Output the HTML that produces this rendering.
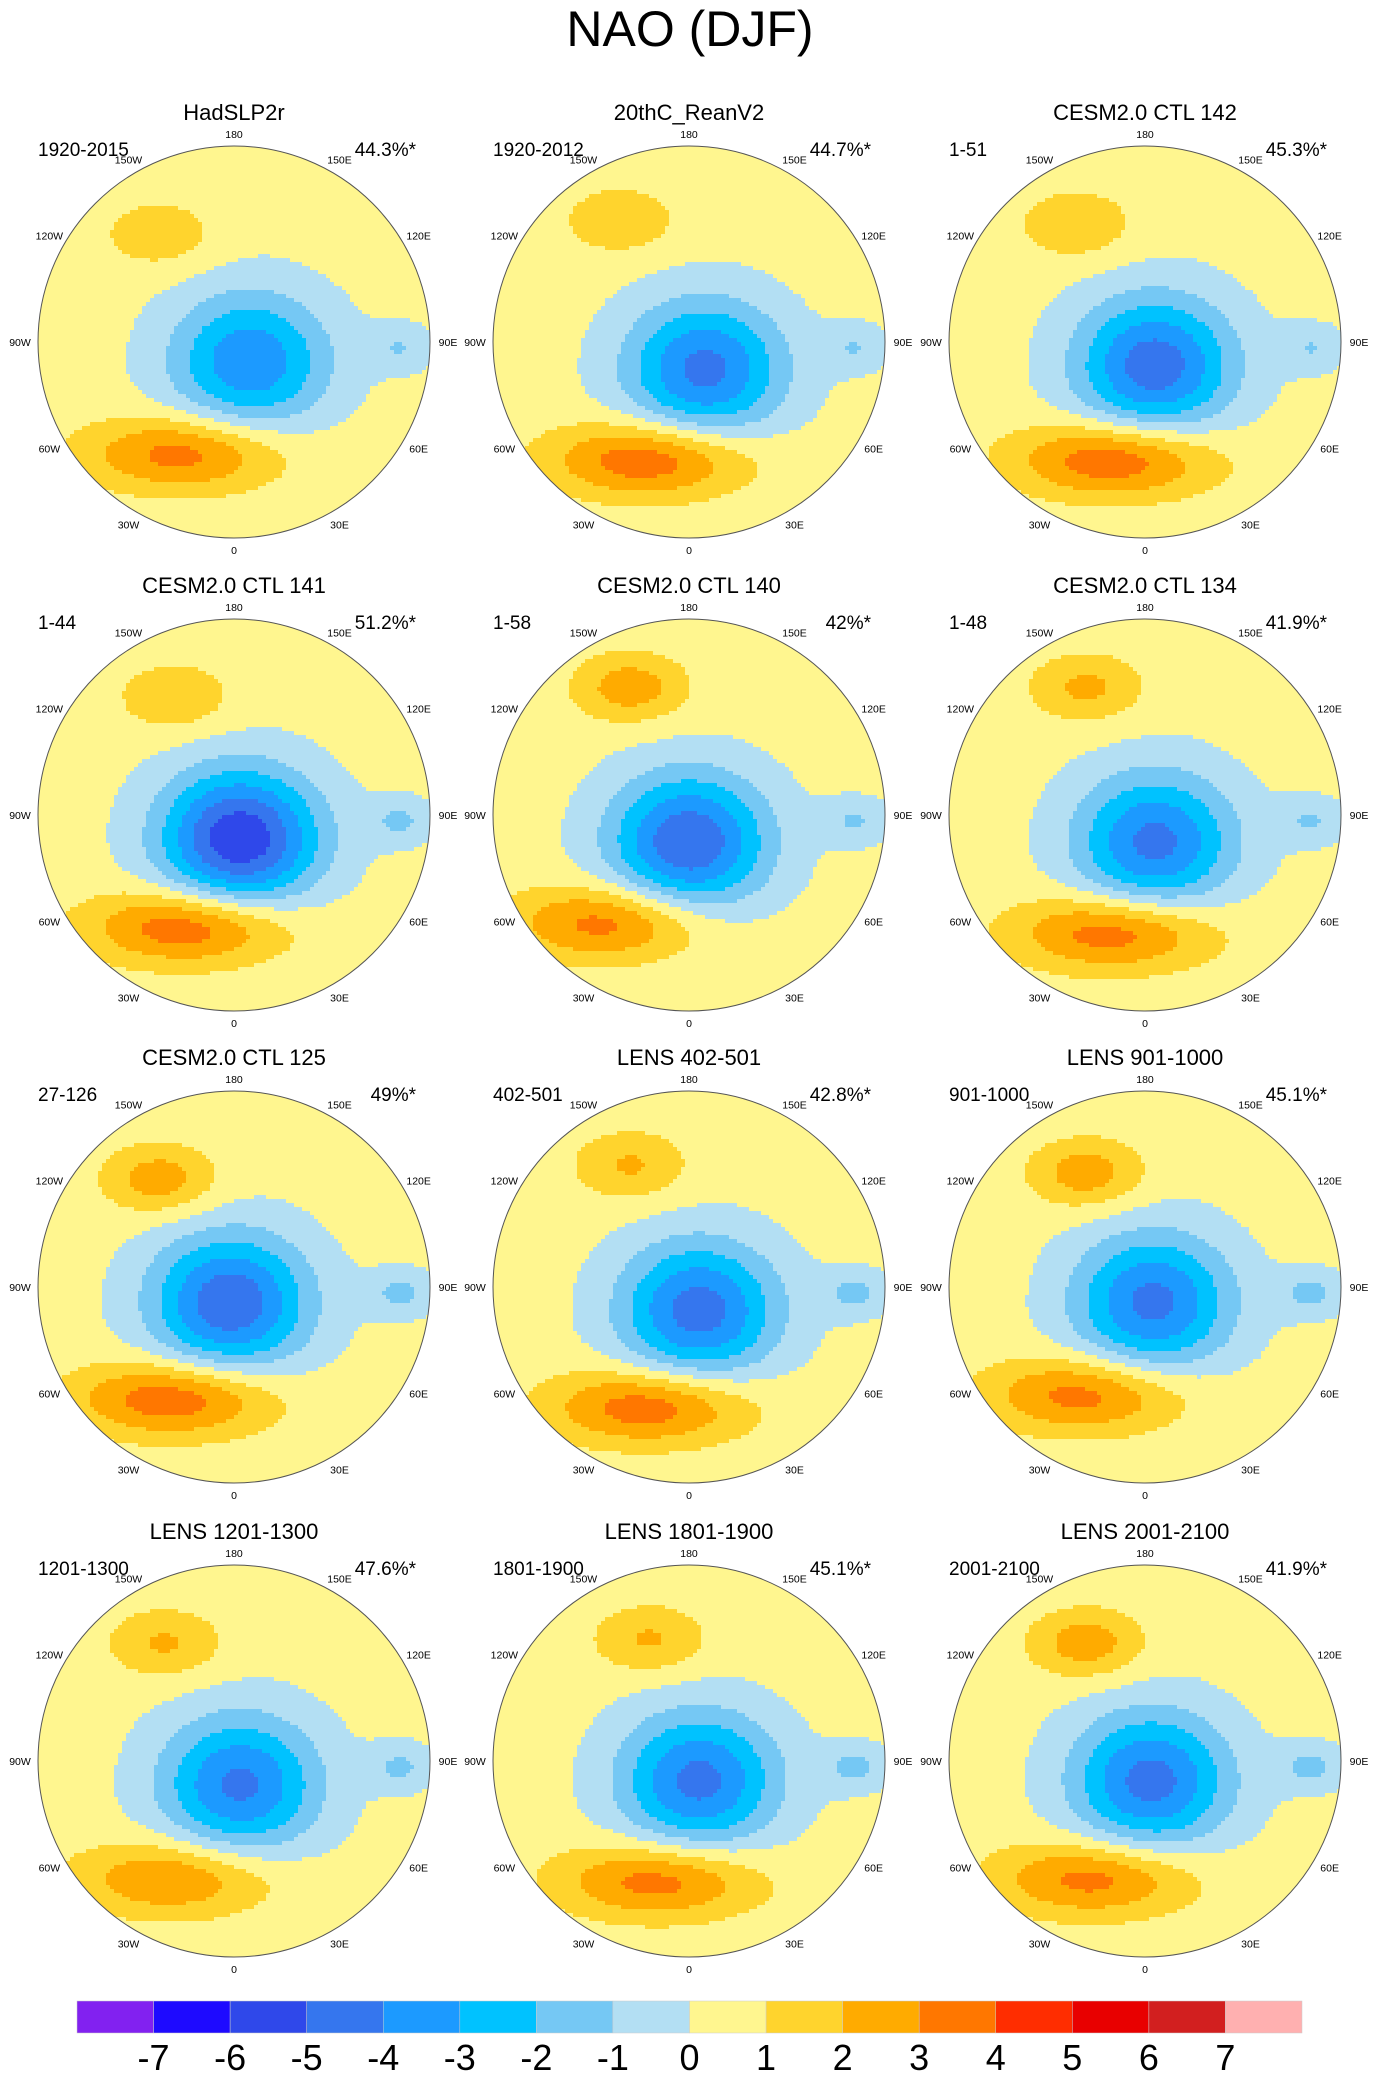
<!DOCTYPE html>
<html><head><meta charset="utf-8">
<style>
html,body{margin:0;padding:0;background:#fff;}
body{width:1380px;height:2086px;overflow:hidden;font-family:"Liberation Sans",sans-serif;}
</style></head>
<body>
<svg id="fig" width="1380" height="2086" xmlns="http://www.w3.org/2000/svg" font-family="Liberation Sans, sans-serif">
<text x="690" y="46" font-size="50" text-anchor="middle">NAO (DJF)</text>
<g id="panels"></g>
<g id="colorbar"></g>
</svg>
<script>
// ---- data ----
const panelTitles = ["HadSLP2r","20thC_ReanV2","CESM2.0 CTL 142","CESM2.0 CTL 141","CESM2.0 CTL 140","CESM2.0 CTL 134","CESM2.0 CTL 125","LENS 402-501","LENS 901-1000","LENS 1201-1300","LENS 1801-1900","LENS 2001-2100"];
const periods = ["1920-2015","1920-2012","1-51","1-44","1-58","1-48","27-126","402-501","901-1000","1201-1300","1801-1900","2001-2100"];
const variances = ["44.3%*","44.7%*","45.3%*","51.2%*","42%*","41.9%*","49%*","42.8%*","45.1%*","47.6%*","45.1%*","41.9%*"];
// Icelandic low (Arctic) centre amplitude & position (fraction of radius)
const lowAmp = [-4.2,-4.7,-5.0,-6.2,-5.3,-4.7,-5.2,-4.9,-4.7,-4.6,-4.7,-4.8];
const lowX   = [0.08,0.08,0.05,0.03,0.0,0.05,-0.02,0.05,0.04,0.03,0.05,0.03];
const lowY   = [0.1,0.14,0.12,0.12,0.14,0.14,0.08,0.12,0.08,0.12,0.1,0.1];
// Azores high
const highAmp = [3.2,3.6,3.7,3.7,3.2,3.5,3.6,3.5,3.2,2.8,3.3,3.2];
const highX   = [-0.25,-0.2,-0.15,-0.22,-0.4,-0.15,-0.3,-0.2,-0.3,-0.3,-0.15,-0.25];
const highY   = [0.57,0.6,0.6,0.57,0.55,0.6,0.57,0.61,0.55,0.6,0.61,0.6];
// Pacific high
const pacAmp = [1.4,1.5,1.6,1.6,2.3,1.9,2.3,1.8,2.3,1.8,1.8,2.3];
const pacX   = [-0.38,-0.35,-0.35,-0.3,-0.3,-0.3,-0.38,-0.3,-0.3,-0.35,-0.2,-0.3];
const pacY   = [-0.55,-0.62,-0.6,-0.6,-0.65,-0.65,-0.55,-0.62,-0.58,-0.6,-0.62,-0.6];
// Eurasian negative wing
const eastAmp = [-1.3,-1.3,-1.3,-1.5,-1.4,-1.4,-1.6,-1.6,-1.6,-1.5,-1.6,-1.6];
const levels = [-7,-6,-5,-4,-3,-2,-1,0,1,2,3,4,5,6,7];
const colors = ["#8221f0","#1e0aff","#2f48ea","#3576ee","#1c9aff","#00c2ff","#75c8f4","#b3dff3","#fff68f","#ffd42d","#ffab00","#ff7700","#ff2d00","#e80000","#d21f1f","#ffb0b0"];
const lonLabels = ["0","30E","60E","90E","120E","150E","180","150W","120W","90W","60W","30W"];
const lonDeg = [0,30,60,90,120,150,180,-150,-120,-90,-60,-30];

// ---- layout ----
const colX = [234,689,1145], rowY = [342,815,1287,1761], R = 196, CELL = 4;
const NS = "http://www.w3.org/2000/svg";
function mk(t, a, p){const e=document.createElementNS(NS,t);for(const k in a)e.setAttribute(k,a[k]);p.appendChild(e);return e;}
function g2(x,y,cx,cy,sx,sy){const dx=(x-cx)/sx,dy=(y-cy)/sy;return Math.exp(-(dx*dx+dy*dy));}
function field(i,x,y){
  let v=0.35;
  v+=lowAmp[i]*g2(x,y,lowX[i],lowY[i],0.4,0.35);
  v+=highAmp[i]*g2(x,y,highX[i],highY[i],0.5,0.19);
  v+=pacAmp[i]*g2(x,y,pacX[i],pacY[i],0.28,0.17);
  v+=eastAmp[i]*g2(x,y,0.85,0.03,0.17,0.12);
  return v;
}
function colorIdx(v){let k=0;while(k<levels.length&&v>=levels[k])k++;return k;}
const panelsG=document.getElementById('panels');
for(let i=0;i<12;i++){
  const cx=colX[i%3], cy=rowY[Math.floor(i/3)];
  const g=mk('g',{},panelsG);
  
  
  const cid='clip'+i;
  const cp=mk('clipPath',{id:cid},g); mk('circle',{cx:cx,cy:cy,r:R},cp);
  const fg=mk('g',{'clip-path':'url(#'+cid+')'},g);
  
  
  for(let py=cy-R;py<cy+R;py+=CELL){
    let runStart=cx-R, runK=-1;
    for(let px=cx-R;px<=cx+R;px+=CELL){
      let k=-2;
      if(px<cx+R){const x=(px+CELL/2-cx)/R,y=(py+CELL/2-cy)/R;k=colorIdx(field(i,x,y));}
      if(k!==runK){
        if(runK>=0){
          const r=mk('rect',{x:runStart,y:py,width:px-runStart+0.6,height:CELL+0.6,fill:colors[runK]},fg);
          
          
        }
        runStart=px; runK=k;
      }
    }
  }
  const c=mk('circle',{cx:cx,cy:cy,r:R,fill:'none',stroke:'#555','stroke-width':1},g);
  
  
  const t=mk('text',{x:cx,y:cy-222,'font-size':22,'text-anchor':'middle'},g); t.textContent=panelTitles[i];
  
  
  const p=mk('text',{x:cx-196,y:cy-186,'font-size':19},g); p.textContent=periods[i];
  
  
  const vtx=mk('text',{x:cx+182,y:cy-186,'font-size':19,'text-anchor':'end'},g); vtx.textContent=variances[i];
  
  
  for(let j=0;j<lonLabels.length;j++){
    const a=lonDeg[j]*Math.PI/180, rr=R+12+6*Math.abs(Math.sin(a));
    const l=mk('text',{x:cx+rr*Math.sin(a),y:cy+rr*Math.cos(a)+4,'font-size':10.5,'text-anchor':'middle'},g);
    l.textContent=lonLabels[j];
    
    
  }
}
// ---- colorbar ----
const cb=document.getElementById('colorbar');
const cbX0=77, cbX1=1302, cbY=2001, cbH=32, bw=(cbX1-cbX0)/colors.length;
for(let k=0;k<colors.length;k++){
  const r=mk('rect',{x:cbX0+k*bw,y:cbY,width:bw,height:cbH,fill:colors[k],stroke:'#ccc','stroke-width':0.5},cb);
  
  
}
for(let k=0;k<levels.length;k++){
  const t=mk('text',{x:cbX0+(k+1)*bw,y:2070,'font-size':36,'text-anchor':'middle'},cb);
  t.textContent=levels[k];
  
  
}
</script>
</body></html>
